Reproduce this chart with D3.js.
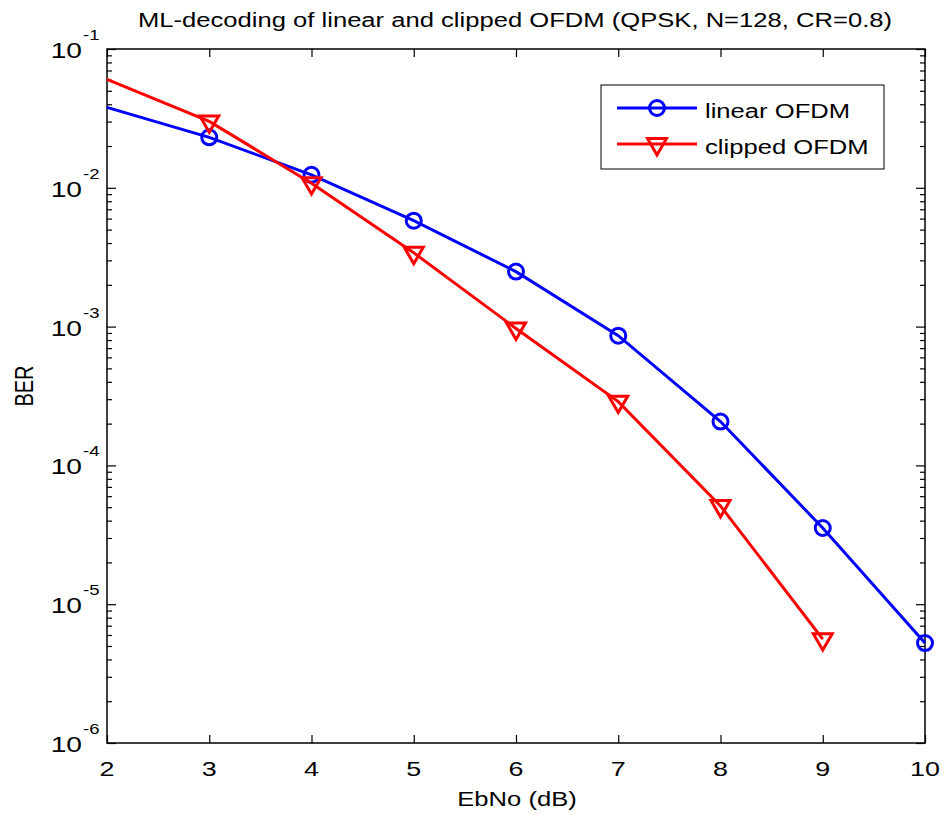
<!DOCTYPE html>
<html>
<head>
<meta charset="utf-8">
<script src="https://cdn.jsdelivr.net/npm/d3@7"></script>
<style>
  body { margin: 0; background: #fff; }
  svg text { font-family: "Liberation Sans", Arial, sans-serif; fill: #000; }
</style>
</head>
<body>
<svg id="chart" width="944" height="815"></svg>
<script>
"use strict";

// values
let ebnoLinear = [2, 3, 4, 5, 6, 7, 8, 9, 10];
let berLinear = [0.038, 0.0231, 0.0124, 0.0058, 0.00249, 8.6e-4, 2.07e-4, 3.54e-5, 5.25e-6];
let ebnoClipped = [2, 3, 4, 5, 6, 7, 8, 9];
let berClipped = [0.0605, 0.0301, 0.0108, 0.0034, 9.7e-4, 2.88e-4, 5.1e-5, 5.6e-6];

let xTicks = [2, 3, 4, 5, 6, 7, 8, 9, 10];
let yExponents = [-1, -2, -3, -4, -5, -6];
let seriesNames = ["linear OFDM", "clipped OFDM"];
let seriesColors = ["#0000ff", "#ff0000"];

let titleText = "ML-decoding of linear and clipped OFDM (QPSK, N=128, CR=0.8)";
let xLabel = "EbNo (dB)";
let yLabel = "BER";

// the source picture is stretched sideways, text gets the same treatment
const SX = 1.28;

let svg = d3.select("#chart");
let plot = { left: 107, right: 925, top: 49, bottom: 743 };

let x = d3.scaleLinear().domain([2, 10]).range([plot.left, plot.right]);
let y = d3.scaleLog().domain([1e-6, 1e-1]).range([plot.bottom, plot.top]);

let majorY = yExponents.map(e => Math.pow(10, e));
let minorY = [];
yExponents.slice(1).forEach(e => {
  for (let m = 2; m <= 9; m++) minorY.push(m * Math.pow(10, e));
});

function stretchedText(parent, px, py, txt, size, anchor) {
  return parent.append("text")
    .attr("transform", `translate(${px},${py}) scale(${SX},1)`)
    .attr("text-anchor", anchor || "middle")
    .style("font-size", size + "px")
    .text(txt);
}

// axes (ticks pointing inwards, box drawn separately)
let axes = svg.append("g").classed("axes", true);

function addAxis(axis, tx, ty) {
  let g = axes.append("g").attr("transform", `translate(${tx},${ty})`).call(axis);
  g.select(".domain").remove();
  g.selectAll(".tick line").attr("stroke", "#000").attr("stroke-width", 1.2);
  g.selectAll(".tick text").remove();
}

addAxis(d3.axisBottom(x).tickValues(xTicks).tickSize(-8), 0, plot.bottom);
addAxis(d3.axisTop(x).tickValues(xTicks).tickSize(-8), 0, plot.top);
addAxis(d3.axisLeft(y).tickValues(majorY).tickSize(-9), plot.left, 0);
addAxis(d3.axisLeft(y).tickValues(minorY).tickSize(-5), plot.left, 0);
addAxis(d3.axisRight(y).tickValues(majorY).tickSize(-9), plot.right, 0);
addAxis(d3.axisRight(y).tickValues(minorY).tickSize(-5), plot.right, 0);

axes.append("rect")
  .attr("x", plot.left).attr("y", plot.top)
  .attr("width", plot.right - plot.left).attr("height", plot.bottom - plot.top)
  .attr("fill", "none").attr("stroke", "#000").attr("stroke-width", 1.5);

// tick labels
let labels = svg.append("g").classed("tick-labels", true);
xTicks.forEach(t => {
  stretchedText(labels, x(t), 776, String(t), 21, "middle");
});
yExponents.forEach(e => {
  let ty = y(Math.pow(10, e));
  stretchedText(labels, 82, ty + 9, "10", 22, "end");
  stretchedText(labels, 83, ty - 9, String(e), 14.5, "start");
});

// title and axis labels
stretchedText(svg, 515, 27, titleText, 20, "middle");
stretchedText(svg, 517, 806, xLabel, 20, "middle");
svg.append("text")
  .attr("transform", `translate(33,386) scale(${SX},1) rotate(-90)`)
  .attr("text-anchor", "middle")
  .style("font-size", "20px")
  .text(yLabel);

// series
let line = d3.line().x(d => x(d[0])).y(d => y(d[1]));
let seriesData = [
  d3.zip(ebnoLinear, berLinear),
  d3.zip(ebnoClipped, berClipped)
];
let triangle = d3.symbol().type(d3.symbolTriangle).size(156);

function drawMarker(parent, index, mx, my) {
  if (index === 0) {
    parent.append("circle")
      .attr("cx", mx).attr("cy", my).attr("r", 7.5)
      .attr("fill", "none").attr("stroke", seriesColors[0]).attr("stroke-width", 3);
  } else {
    parent.append("path")
      .attr("d", triangle())
      .attr("transform", `translate(${mx},${my}) rotate(180)`)
      .attr("fill", "none").attr("stroke", seriesColors[1]).attr("stroke-width", 3);
  }
}

let content = svg.append("g").classed("graph-content", true);
seriesData.forEach((pts, i) => {
  content.append("path")
    .datum(pts)
    .attr("d", line)
    .attr("fill", "none")
    .attr("stroke", seriesColors[i])
    .attr("stroke-width", 3);
  // the first point sits on the axis edge and carries no marker in the original
  pts.slice(1).forEach(p => drawMarker(content, i, x(p[0]), y(p[1])));
});

// legend
let legend = svg.append("g").classed("legend", true);
legend.append("rect")
  .attr("x", 601).attr("y", 85).attr("width", 283).attr("height", 84)
  .attr("fill", "#fff").attr("stroke", "#000").attr("stroke-width", 1);

seriesNames.forEach((name, i) => {
  let ly = 108 + i * 36;
  legend.append("line")
    .attr("x1", 617).attr("x2", 697).attr("y1", ly).attr("y2", ly)
    .attr("stroke", seriesColors[i]).attr("stroke-width", 3);
  drawMarker(legend, i, 657, ly);
  stretchedText(legend, 705, ly + 10, name, 20, "start");
});
</script>
</body>
</html>
